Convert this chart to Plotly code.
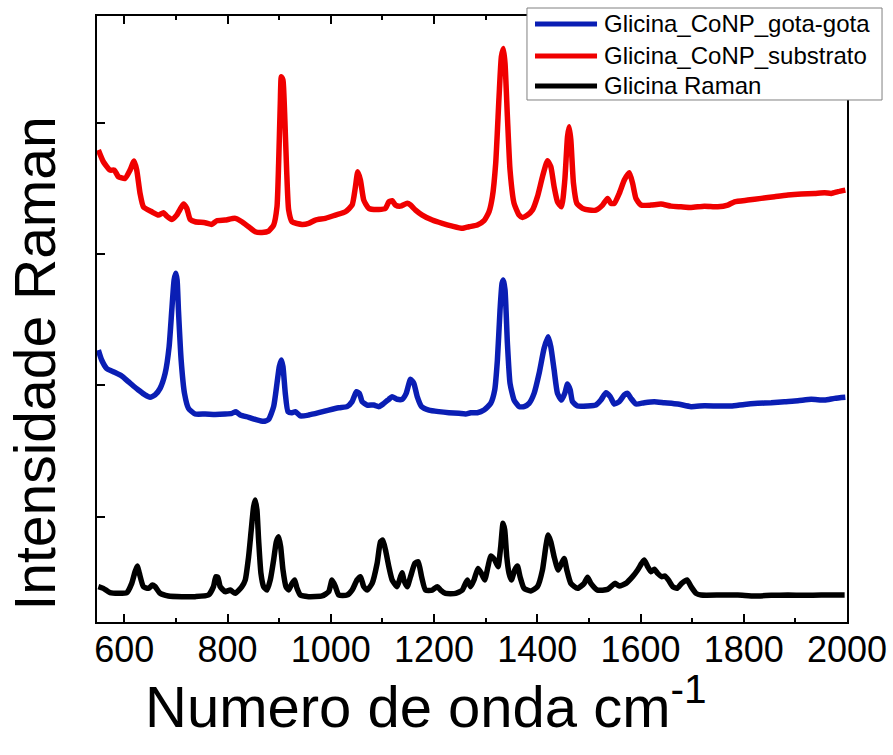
import plotly.graph_objects as go

# Glicina Raman spectrum (reference)
wn_raman = [549.6, 559.3, 572.2, 588.4, 604.6, 614.3, 620.7, 625.3, 629.1, 636.9, 646.6, 654.4, 659.5,
            669.2, 685.4, 711.3, 737.2, 763.0, 772.7, 777.3, 781.2, 785.7, 795.4, 805.1, 814.8, 827.7,
            834.2, 840.7, 845.8, 850.4, 853.6, 856.9, 860.1, 864.6, 869.8, 876.3, 882.7, 889.2, 894.4,
            898.9, 902.8, 907.3, 913.1, 918.3, 924.8, 929.9, 934.5, 940.9, 957.1, 983.0, 995.9, 1002.4,
            1008.9, 1015.3, 1031.5, 1041.2, 1050.9, 1057.4, 1063.8, 1070.3, 1080.0, 1089.7, 1096.2,
            1100.7, 1105.9, 1112.4, 1118.8, 1128.5, 1135.0, 1138.3, 1141.5, 1148.0, 1154.4, 1162.8,
            1169.3, 1175.8, 1183.5, 1196.5, 1206.2, 1212.6, 1222.4, 1241.8, 1254.7, 1264.4, 1270.9,
            1277.4, 1285.1, 1291.6, 1298.1, 1304.5, 1309.7, 1317.5, 1323.9, 1329.1, 1333.6, 1336.9,
            1340.8, 1345.3, 1349.8, 1356.3, 1361.5, 1366.6, 1374.4, 1387.3, 1400.3, 1410.0, 1416.5,
            1421.0, 1426.2, 1432.6, 1440.4, 1446.9, 1452.0, 1457.2, 1465.0, 1477.9, 1490.8, 1497.3,
            1503.8, 1516.7, 1536.1, 1550.4, 1558.8, 1571.7, 1584.6, 1594.4, 1602.1, 1607.3, 1613.8,
            1620.2, 1626.7, 1633.2, 1640.9, 1647.4, 1653.9, 1662.3, 1670.7, 1679.7, 1690.1, 1697.9,
            1707.6, 1717.3, 1756.1, 1788.4, 1820.8, 1853.1, 1885.5, 1917.8, 1950.2, 1995.4]
int_raman = [469, 456, 423, 418, 423, 494, 583, 626, 570, 469, 456, 481, 469,
             418, 398, 393, 393, 405, 469, 545, 540, 469, 431, 443, 418, 469,
             520, 697, 900, 1078, 1128, 1052, 824, 570, 469, 443, 520, 672, 811,
             849, 773, 596, 469, 443, 494, 520, 456, 405, 393, 398, 431, 520,
             469, 405, 405, 443, 520, 545, 469, 443, 494, 646, 811,
             824, 748, 621, 520, 469, 545, 575, 520, 469, 545, 646,
             659, 545, 443, 443, 469, 443, 418, 418, 443, 520, 469,
             520, 608, 570, 520, 621, 702, 672, 621, 773, 951, 900,
             697, 570, 520, 596, 626, 545, 456, 436, 469, 596, 773,
             862, 811, 697, 596, 646, 684, 596, 494, 456, 494, 540,
             494, 443, 448, 494, 474, 494, 545, 596, 646, 672, 621,
             583, 601, 570, 545, 550, 520, 469, 456, 494, 520, 469,
             418, 405, 405, 405, 398, 403, 405, 403, 405, 405]

# Glicina with CoNP, drop-cast (gota-gota)
wn_gota = [549.6, 556.0, 565.7, 578.7, 594.9, 607.8, 617.5, 627.2, 640.1, 649.8, 659.5, 669.2, 679.0,
           686.7, 691.9, 696.4, 699.6, 702.2, 704.8, 710.0, 716.5, 724.2, 737.2, 756.6, 776.0, 795.4,
           808.3, 816.1, 824.5, 840.7, 853.6, 869.8, 879.5, 889.2, 895.7, 900.2, 904.1, 907.3, 911.8,
           917.0, 924.8, 931.2, 941.0, 957.1, 976.5, 995.9, 1015.3, 1031.5, 1041.2, 1049.6, 1055.4,
           1060.6, 1070.3, 1083.3, 1093.0, 1102.7, 1112.4, 1118.8, 1128.5, 1138.3, 1146.0, 1154.4,
           1160.9, 1167.4, 1175.8, 1190.0, 1209.4, 1228.8, 1248.2, 1261.1, 1270.9, 1283.8, 1296.8,
           1309.7, 1317.5, 1322.7, 1327.8, 1331.7, 1334.3, 1337.5, 1342.1, 1347.2, 1355.0, 1364.7,
           1374.4, 1384.1, 1393.8, 1403.5, 1413.2, 1421.0, 1426.2, 1432.6, 1439.1, 1446.9, 1453.3,
           1458.5, 1463.7, 1468.2, 1477.9, 1497.3, 1513.5, 1523.2, 1532.9, 1541.3, 1549.1, 1558.8,
           1568.5, 1574.9, 1581.4, 1591.1, 1607.3, 1626.7, 1646.1, 1672.0, 1697.9, 1723.7, 1749.6,
           1775.5, 1801.4, 1827.2, 1853.1, 1879.0, 1904.9, 1930.7, 1956.6, 1976.0, 1996.8]
int_gota = [2270, 2194, 2130, 2105, 2072, 2029, 1996, 1966, 1928, 1910, 1928, 1978, 2092,
            2295, 2574, 2803, 2854, 2803, 2574, 2194, 1940, 1826, 1783, 1783, 1780, 1783,
            1788, 1801, 1775, 1758, 1742, 1727, 1742, 1839, 2016, 2143, 2194, 2143, 1940,
            1801, 1793, 1801, 1768, 1775, 1793, 1813, 1831, 1839, 1877, 1953, 1940,
            1877, 1851, 1851, 1839, 1864, 1895, 1915, 1895, 1895, 1940, 2047,
            2016, 1915, 1839, 1813, 1801, 1793, 1788, 1783, 1793, 1793, 1813,
            1864, 1966, 2194, 2574, 2777, 2803, 2727, 2321, 2016, 1889, 1839,
            1839, 1864, 1940, 2092, 2283, 2371, 2295, 2118, 1940, 1889, 1940,
            2011, 1966, 1877, 1844, 1844, 1851, 1889, 1945, 1915, 1859, 1877,
            1928, 1940, 1902, 1859, 1869, 1877, 1869, 1859, 1839, 1846, 1844,
            1844, 1856, 1864, 1869, 1877, 1884, 1895, 1889, 1902, 1910]

# Glicina with CoNP on substrate
wn_sub = [549.6, 559.3, 572.2, 580.6, 588.4, 601.3, 611.0, 618.8, 624.0, 630.4, 636.9, 653.1, 666.0,
          675.7, 682.2, 691.9, 701.6, 714.5, 721.0, 727.5, 737.2, 756.6, 769.5, 779.2, 795.4, 814.8,
          827.7, 840.7, 853.6, 866.6, 879.5, 889.2, 895.7, 898.9, 902.1, 904.1, 907.3, 910.5, 914.4,
          918.3, 924.8, 944.2, 957.1, 970.1, 989.5, 1008.9, 1028.3, 1041.2, 1047.7, 1052.2, 1057.4,
          1063.8, 1073.6, 1093.0, 1105.9, 1112.4, 1118.8, 1125.3, 1135.0, 1148.0, 1154.4, 1164.1,
          1177.1, 1196.5, 1215.9, 1235.3, 1254.7, 1267.6, 1283.8, 1296.8, 1306.5, 1313.0, 1319.4,
          1325.9, 1330.4, 1334.3, 1337.5, 1342.1, 1347.2, 1355.0, 1364.7, 1371.2, 1380.9, 1390.6,
          1400.3, 1410.0, 1419.7, 1426.2, 1432.6, 1439.1, 1446.9, 1453.3, 1458.5, 1461.7, 1465.0,
          1470.1, 1476.6, 1487.6, 1500.5, 1513.5, 1526.4, 1536.1, 1542.6, 1549.1, 1558.8, 1568.5,
          1578.2, 1584.7, 1591.1, 1600.8, 1620.2, 1639.6, 1659.0, 1678.4, 1697.9, 1723.7, 1749.6,
          1769.0, 1782.0, 1807.8, 1833.7, 1859.6, 1885.5, 1911.3, 1937.2, 1956.6, 1969.6, 1982.5,
          1996.8]
int_sub = [3792, 3703, 3639, 3639, 3589, 3576, 3639, 3708, 3639, 3462, 3360, 3322, 3297,
           3315, 3289, 3264, 3297, 3381, 3348, 3264, 3246, 3239, 3226, 3254, 3259, 3272,
           3246, 3208, 3170, 3165, 3175, 3221, 3360, 3690, 4147, 4350, 4324, 4071, 3639,
           3335, 3246, 3226, 3234, 3259, 3272, 3297, 3322, 3373, 3513, 3627, 3563,
           3411, 3348, 3340, 3348, 3398, 3406, 3373, 3365, 3386, 3373, 3335,
           3297, 3259, 3234, 3213, 3196, 3208, 3221, 3254, 3322, 3437, 3690,
           4198, 4502, 4565, 4451, 4045, 3639, 3386, 3297, 3279, 3297, 3335,
           3437, 3589, 3711, 3665, 3513, 3398, 3360, 3563, 3893, 3969, 3868,
           3538, 3386, 3348, 3335, 3335, 3373, 3424, 3386, 3386, 3462, 3563,
           3619, 3538, 3424, 3373, 3373, 3381, 3365, 3360, 3355, 3365, 3360,
           3373, 3398, 3411, 3424, 3437, 3449, 3457, 3462, 3467, 3462, 3475,
           3487]

x_ticks = [600, 800, 1000, 1200, 1400, 1600, 1800, 2000]
y_ticks = [1000, 2000, 3000, 4000]

series = [
    ("Glicina_CoNP_gota-gota", wn_gota, int_gota, "#0a1eb4"),
    ("Glicina_CoNP_substrato", wn_sub, int_sub, "#f00000"),
    ("Glicina Raman", wn_raman, int_raman, "#000000"),
]

FONT = "Arial, Liberation Sans, sans-serif"
LW = 5.5

fig = go.Figure()
for name, xs, ys, color in series:
    fig.add_trace(go.Scatter(x=xs, y=ys, mode="lines", name=name,
                             line=dict(color=color, width=LW, shape="spline", smoothing=0.5)))

fig.update_layout(
    width=893, height=755,
    margin=dict(l=97, r=46, t=16, b=133, autoexpand=False),
    paper_bgcolor="white", plot_bgcolor="white",
    font=dict(family=FONT, color="black"),
    showlegend=False,
)

fig.update_xaxes(
    range=[547, 2000], tickvals=x_ticks, ticktext=[str(v) for v in x_ticks],
    ticks="inside", ticklen=8, tickwidth=2, tickcolor="black",
    minor=dict(dtick=100, tick0=500, ticks="inside", ticklen=4, tickwidth=2, tickcolor="black"),
    showline=True, linecolor="black", linewidth=2, mirror="allticks",
    showgrid=False, zeroline=False, ticklabelstandoff=-5,
    tickfont=dict(size=36, family=FONT, color="black"),
)
fig.update_yaxes(
    range=[200, 4812], tickvals=y_ticks, showticklabels=False,
    ticks="inside", ticklen=8, tickwidth=2, tickcolor="black",
    showline=True, linecolor="black", linewidth=2, mirror=True,
    showgrid=False, zeroline=False,
)

# axis titles
fig.add_annotation(text="Numero de onda cm<sup>-1</sup>", xref="paper", yref="paper",
                   x=0.0613, y=-0.069, xanchor="left", yanchor="top", showarrow=False,
                   font=dict(size=58, family=FONT, color="black"))
fig.add_annotation(text="Intensidade Raman", xref="paper", yref="paper",
                   x=-0.083, y=0.426, xanchor="center", yanchor="middle", textangle=-90,
                   showarrow=False, font=dict(size=57, family=FONT, color="black"))

# legend box with line samples and labels
fig.add_shape(type="rect", xref="paper", yref="paper", x0=0.5733, x1=1.0467, y0=0.8614, y1=1.0132,
              line=dict(color="#808080", width=1), fillcolor="white", layer="above")
row_y = [0.9868, 0.9340, 0.8845]
for (name, _, _, color), yy in zip(series, row_y):
    fig.add_shape(type="line", xref="paper", yref="paper", x0=0.5840, x1=0.6667, y0=yy, y1=yy,
                  line=dict(color=color, width=5), layer="above")
    fig.add_annotation(text=name, xref="paper", yref="paper", x=0.6733, y=yy,
                       xanchor="left", yanchor="middle", showarrow=False,
                       font=dict(size=24, family=FONT, color="black"))

fig.write_html("out.html")
